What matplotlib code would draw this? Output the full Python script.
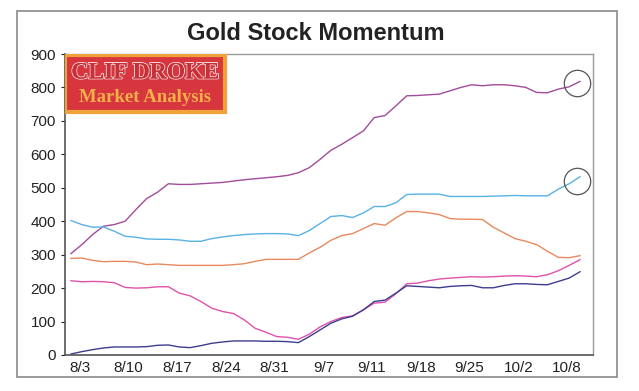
import matplotlib
matplotlib.use("Agg")
import matplotlib.pyplot as plt
import matplotlib.patheffects as pe
from matplotlib.patches import Rectangle
import numpy as np

plt.rcParams['font.family'] = ['Liberation Sans', 'DejaVu Sans']

tick_labels = ['8/3', '8/10', '8/17', '8/24', '8/31', '9/7', '9/11',
               '9/18', '9/25', '10/2', '10/8']

purple = [303, 330, 360, 385, 390, 400, 435, 468, 487, 512, 510, 510,
          512, 514, 516, 520, 524, 527, 530, 533, 537, 545, 560, 585,
          612, 630, 650, 670, 710, 716, 745, 775, 776, 778, 780, 790,
          800, 808, 805, 808, 808, 805, 800, 785, 784, 795, 802, 818]
blue = [402, 390, 382, 383, 370, 355, 352, 347, 346, 346, 344, 340,
        340, 348, 353, 357, 360, 362, 363, 363, 362, 357, 372, 393,
        414, 417, 411, 425, 444, 444, 455, 480, 481, 481, 481, 474,
        474, 474, 474, 475, 476, 477, 476, 476, 476, 496, 512, 533]
orange = [289, 290, 283, 279, 280, 280, 278, 270, 272, 270, 268, 268,
          268, 268, 268, 270, 273, 280, 286, 286, 286, 286, 305, 322,
          343, 357, 363, 378, 393, 388, 410, 429, 429, 425, 420, 408,
          406, 406, 405, 382, 365, 348, 340, 330, 310, 292, 291, 297]
pink = [222, 219, 220, 219, 216, 202, 200, 201, 204, 204, 185, 177,
        160, 140, 130, 124, 105, 80, 68, 55, 53, 47, 62, 84,
        100, 112, 117, 135, 155, 158, 183, 213, 215, 222, 227, 230,
        232, 234, 233, 234, 236, 237, 236, 234, 240, 252, 268, 285]
navy = [3, 10, 16, 21, 24, 24, 24, 25, 29, 30, 24, 22,
        28, 35, 39, 42, 42, 42, 41, 41, 40, 37, 55, 75,
        95, 108, 116, 135, 160, 164, 185, 207, 205, 203, 201, 205,
        207, 208, 201, 201, 208, 213, 213, 211, 210, 220, 230, 249]

x = np.arange(len(purple))
tick_pos = np.linspace(0.8, 45.8, len(tick_labels))

fig = plt.figure(figsize=(6.39, 3.91), dpi=100)
fig.patches.append(Rectangle((17/639, 1 - 377/391), 600/639, 366/391,
                             transform=fig.transFigure, fill=False,
                             edgecolor='#8a8a8a', linewidth=1.2))

ax = fig.add_axes([65/639, 1 - 355/391, 528/639, 301/391])

ax.plot(x, purple, color='#a24c9c', lw=1.0)
ax.plot(x, blue, color='#58b2e6', lw=1.0)
ax.plot(x, orange, color='#e8895e', lw=1.0)
ax.plot(x, pink, color='#e052aa', lw=1.0)
ax.plot(x, navy, color='#3d3d8e', lw=1.0)

# circles on the last points
ax.plot([x[-1] - 0.3, x[-1] - 0.3], [purple[-1] - 5, blue[-1] - 12], 'o',
        ms=19, mfc='none', mec='#555555', mew=0.9)

ax.set_xlim(-0.55, 48.2)
ax.set_ylim(0, 900)
ax.set_yticks(range(0, 901, 100))
ax.set_xticks(tick_pos)
ax.set_xticklabels(tick_labels)
ax.tick_params(axis='both', labelsize=11, colors='#222222', length=3, width=0.8)
ax.tick_params(axis='x', length=0, pad=4)
for s in ['left', 'bottom']:
    ax.spines[s].set_color('#555555')
    ax.spines[s].set_linewidth(1.2)
for s in ['top', 'right']:
    ax.spines[s].set_color('#999999')
    ax.spines[s].set_linewidth(1.0)

# logo box
ax.add_patch(Rectangle((0, 0.807), 0.303, 0.19, transform=ax.transAxes,
                       facecolor='#d8363e', edgecolor='#f0a23a', lw=3, zorder=5))
ax.text(0.152, 0.937, 'CLIF DROKE', transform=ax.transAxes, ha='center', va='center',
        family='Liberation Serif', fontweight='bold', fontsize=17, color='#c83038',
        zorder=6, path_effects=[pe.withStroke(linewidth=1.3, foreground='#f6e6e6'),
                                pe.Normal()])
ax.text(0.152, 0.856, 'Market Analysis', transform=ax.transAxes, ha='center', va='center',
        family='Liberation Serif', fontweight='bold', fontsize=13.5, color='#f2b048',
        zorder=6)

fig.text(316/639, 1 - 33/391, 'Gold Stock Momentum', ha='center', va='center',
         fontsize=17, fontweight='bold', color='#222222')

fig.savefig('out.png', dpi=100)
